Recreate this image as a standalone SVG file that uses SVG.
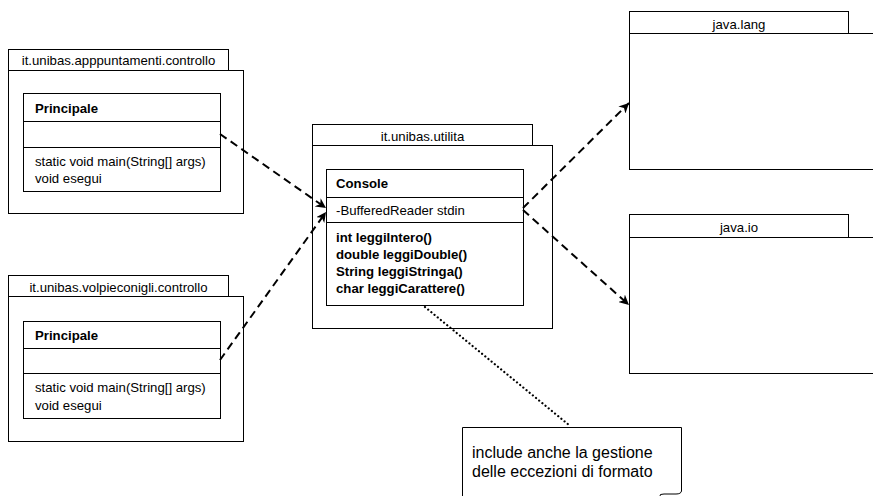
<svg xmlns="http://www.w3.org/2000/svg" width="873" height="496" viewBox="0 0 873 496">
<style>
.box{fill:#fff;stroke:#000;stroke-width:1}
.t{font-family:"Liberation Sans",Arial,sans-serif;font-size:13.2px;fill:#000}
.n{font-size:16px}
.c{text-anchor:middle}
.b{font-weight:bold}
.dep{fill:none;stroke:#000;stroke-width:2;stroke-dasharray:8,5}
.dot{fill:none;stroke:#000;stroke-width:2.2;stroke-dasharray:0.1,4;stroke-linecap:round}
</style>
<defs>
<marker id="ah" viewBox="0 0 10 10" refX="10" refY="5" markerWidth="10" markerHeight="10" markerUnits="userSpaceOnUse" orient="auto">
<path d="M0,0 L10,5 L0,10 L3,5 Z" fill="#000"/>
</marker>
</defs>
<rect width="873" height="496" fill="#fff"/>

<g id="pkg-appuntamenti">
<rect class="box" x="8.5" y="49.5" width="220" height="21"/>
<rect class="box" x="8.5" y="70.5" width="235" height="143"/>
<text class="t c" x="118.5" y="64.5">it.unibas.apppuntamenti.controllo</text>
</g>
<g id="class-principale-1">
<rect class="box" x="23.5" y="93.5" width="197" height="98"/>
<line x1="23.5" y1="121.5" x2="220.5" y2="121.5" stroke="#000"/>
<line x1="23.5" y1="147.5" x2="220.5" y2="147.5" stroke="#000"/>
<text class="t b" x="35" y="112.5">Principale</text>
<text class="t" x="35" y="166">static void main(String[] args)</text>
<text class="t" x="35" y="183">void esegui</text>
</g>

<g id="pkg-volpieconigli">
<rect class="box" x="8.5" y="275.5" width="220" height="21"/>
<rect class="box" x="8.5" y="296.5" width="235" height="145"/>
<text class="t c" x="118.5" y="292">it.unibas.volpieconigli.controllo</text>
</g>
<g id="class-principale-2">
<rect class="box" x="23.5" y="321.5" width="197" height="97"/>
<line x1="23.5" y1="348.5" x2="220.5" y2="348.5" stroke="#000"/>
<line x1="23.5" y1="373.5" x2="220.5" y2="373.5" stroke="#000"/>
<text class="t b" x="35" y="339.5">Principale</text>
<text class="t" x="35" y="392">static void main(String[] args)</text>
<text class="t" x="35" y="410">void esegui</text>
</g>

<g id="pkg-utilita">
<rect class="box" x="312.5" y="124.5" width="220" height="21"/>
<rect class="box" x="312.5" y="145.5" width="240" height="183"/>
<text class="t c" x="422.5" y="141">it.unibas.utilita</text>
</g>
<g id="class-console">
<rect class="box" x="326.5" y="169.5" width="197" height="136"/>
<line x1="326.5" y1="197.5" x2="523.5" y2="197.5" stroke="#000"/>
<line x1="326.5" y1="222.5" x2="523.5" y2="222.5" stroke="#000"/>
<text class="t b" x="336" y="188">Console</text>
<text class="t" x="336" y="214.5">-BufferedReader stdin</text>
<text class="t b" x="336" y="241.5">int leggiIntero()</text>
<text class="t b" x="336" y="258.5">double leggiDouble()</text>
<text class="t b" x="336" y="275.5">String leggiStringa()</text>
<text class="t b" x="336" y="292.5">char leggiCarattere()</text>
</g>

<g id="pkg-java-lang">
<rect class="box" x="629.5" y="11.5" width="219" height="22"/>
<rect class="box" x="629.5" y="33.5" width="260" height="136"/>
<text class="t c" x="739" y="29">java.lang</text>
</g>

<g id="pkg-java-io">
<rect class="box" x="629.5" y="214.5" width="219" height="23"/>
<rect class="box" x="629.5" y="237.5" width="260" height="136"/>
<text class="t c" x="739" y="231.5">java.io</text>
</g>

<g id="note">
<path d="M462.5,505 V427.5 H681.5 V491 Q681,494 676,494 H664 Q659,494 660,496" fill="#fff" stroke="#000" stroke-width="1"/>
<text class="t n" x="472" y="458">include anche la gestione</text>
<text class="t n" x="472" y="477">delle eccezioni di formato</text>
</g>

<g id="connectors">
<line class="dep" x1="220" y1="134" x2="326" y2="208" marker-end="url(#ah)"/>
<line class="dep" x1="220" y1="360" x2="326" y2="212" marker-end="url(#ah)"/>
<line class="dep" x1="523" y1="208" x2="629" y2="103" marker-end="url(#ah)"/>
<line class="dep" x1="523" y1="210" x2="629" y2="305" marker-end="url(#ah)"/>
<line class="dot" x1="425" y1="307" x2="569" y2="425"/>
</g>
</svg>
